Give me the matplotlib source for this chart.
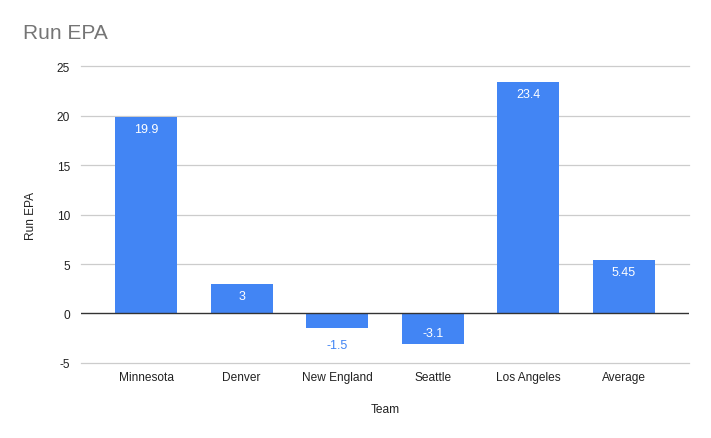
import matplotlib
matplotlib.use("Agg")
import matplotlib.pyplot as plt

plt.rcParams['font.family'] = ['Liberation Sans', 'DejaVu Sans']

teams = ["Minnesota", "Denver", "New England", "Seattle", "Los Angeles", "Average"]
values = [19.9, 3, -1.5, -3.1, 23.4, 5.45]
labels = ["19.9", "3", "-1.5", "-3.1", "23.4", "5.45"]
yticks = [-5, 0, 5, 10, 15, 20, 25]

blue = "#4285F4"
fig = plt.figure(figsize=(7.11, 4.39), dpi=100)
ax = fig.add_axes([0.114, 0.171, 0.855, 0.676])

x = list(range(len(teams)))
ax.bar(x, values, width=0.65, color=blue, zorder=3)
ax.set_xlim(-0.68, 5.68)
ax.set_ylim(-5, 25)
ax.set_yticks(yticks)
ax.set_yticklabels([str(t) for t in yticks], fontsize=8.6, color="#222222")
ax.set_xticks(x)
ax.set_xticklabels(teams, fontsize=8.6, color="#222222")
ax.tick_params(length=0, pad=8)
ax.tick_params(axis='x', pad=6)
for t in yticks:
    if t != 0:
        ax.axhline(t, color="#cccccc", linewidth=0.9, zorder=0, clip_on=False)
ax.axhline(0, color="#333333", linewidth=1.0, zorder=4)
for s in ax.spines.values():
    s.set_visible(False)

for xi, v, lab in zip(x, values, labels):
    if v >= 0:
        ax.text(xi, v - 1.25, lab, ha='center', va='center', color='white', fontsize=9, zorder=5)
    elif v > -2:
        ax.text(xi, v - 1.7, lab, ha='center', va='center', color=blue, fontsize=9, zorder=5)
    else:
        ax.text(xi, v + 1.1, lab, ha='center', va='center', color='white', fontsize=9, zorder=5)

ax.set_xlabel("Team", fontsize=8.6, color="#222222", labelpad=14)
ax.set_ylabel("Run EPA", fontsize=8.6, color="#222222", labelpad=14)
fig.text(0.032, 0.923, "Run EPA", fontsize=15, color="#757575", ha='left', va='center')

fig.savefig("out.png", dpi=100)
